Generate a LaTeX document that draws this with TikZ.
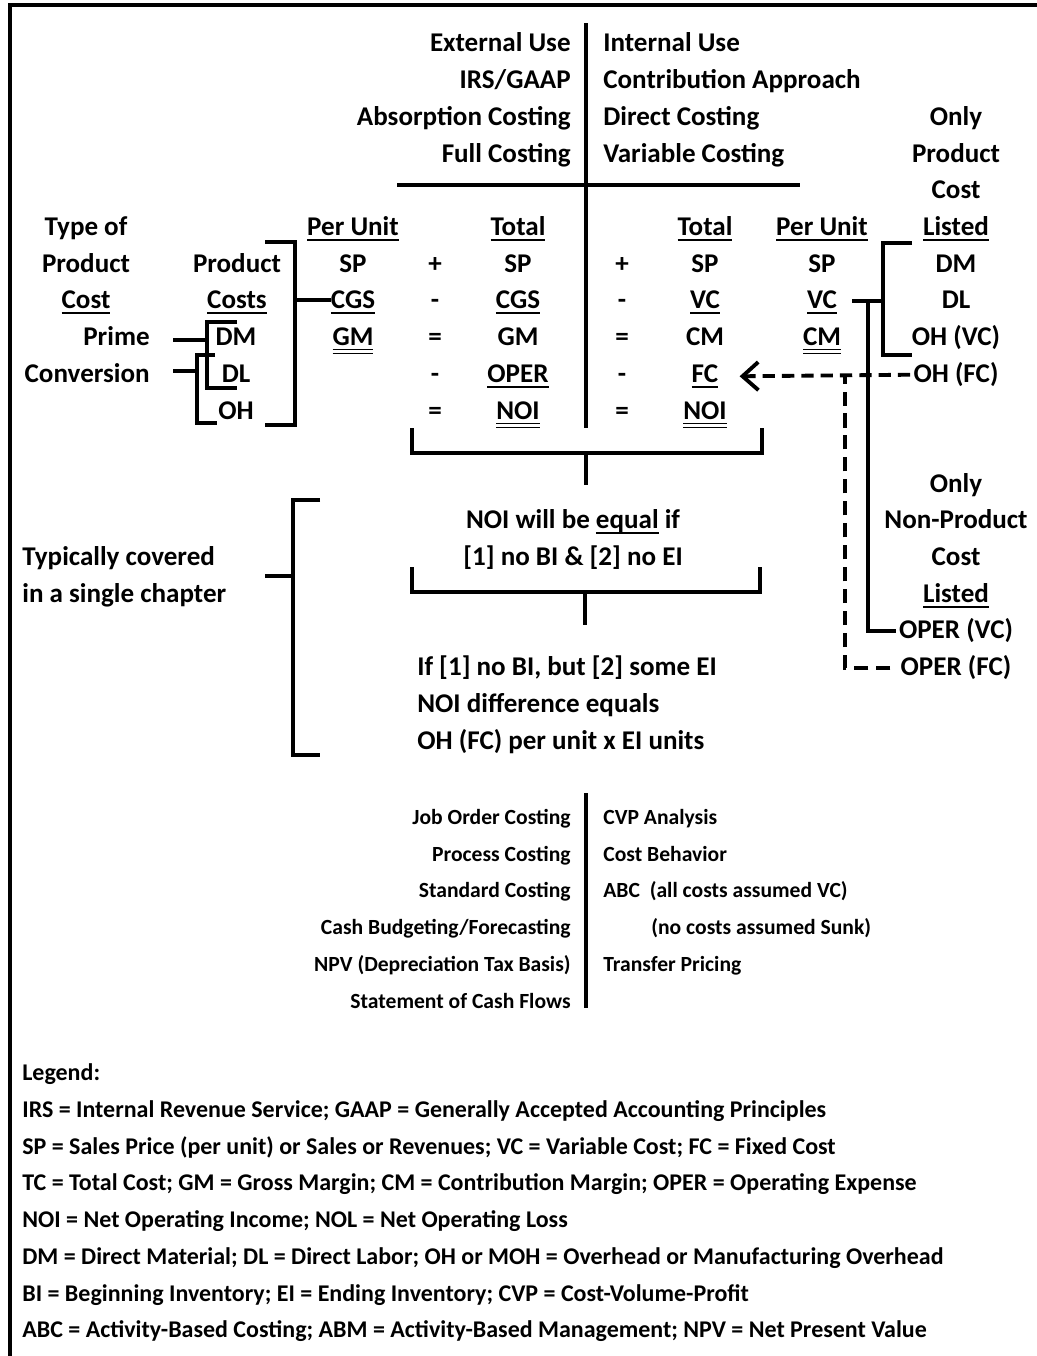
\documentclass[tikz,border=0pt]{standalone}
\usepackage{fontspec}
\setmainfont{Carlito}
\newcommand{\uln}[1]{\setbox0\hbox{#1}\leavevmode\rlap{\rule[-3pt]{\wd0}{0.9pt}}\box0\relax}
\newcommand{\uuln}[1]{\setbox0\hbox{#1}\leavevmode\rlap{\rule[-2.6pt]{\wd0}{0.8pt}}\rlap{\rule[-4.8pt]{\wd0}{0.8pt}}\box0\relax}
\usetikzlibrary{arrows.meta}
\tikzset{
    lbl/.style={font=\fontsize{15.4}{18}\selectfont\bfseries, inner sep=0pt, yshift=-0.09cm},
    lst/.style={font=\fontsize{12.3}{14}\selectfont\bfseries, inner sep=0pt, yshift=-0.1cm},
    lgd/.style={font=\fontsize{13.65}{16}\selectfont\bfseries, inner sep=0pt, anchor=mid west, yshift=-0.08cm},
    % thick bracket lines
    bracketline/.style={line width=2.2pt, black},
    dashline/.style={line width=2.2pt, black, dash pattern=on 8pt off 4.5pt},
    dasharrow/.style={
        line width=2.2pt,
        black,
        dash pattern=on 7pt off 4pt,
        ->,
        >={Straight Barb[length=9pt, width=16pt]}
    }
}

\begin{document}
\begin{tikzpicture}[x=0.02cm, y=-0.02cm]
            \useasboundingbox (0,0) rectangle (1037,1356);
            \draw[bracketline] (10,1356) -- (10,5) -- (1037,5);

            % header
            \node[lbl, anchor=mid east] (ext) at (571,43) {External Use};
            \node[lbl, anchor=mid east] (irs) at (571,80) {IRS/GAAP};
            \node[lbl, anchor=mid east] (absorp) at (571,117) {Absorption Costing};
            \node[lbl, anchor=mid east] (full) at (571,154) {Full Costing};
            \node[lbl, anchor=mid west] (intern) at (603,43) {Internal Use};
            \node[lbl, anchor=mid west] (contrib) at (603,80) {Contribution Approach};
            \node[lbl, anchor=mid west] (direct) at (603,117) {Direct Costing};
            \node[lbl, anchor=mid west] (variable) at (603,154) {Variable Costing};
            \draw[bracketline] (586,23) -- (586,428);
            \draw[bracketline] (397,185) -- (800,185);

            % only product cost listed
            \node[lbl, anchor=mid] (onlyA) at (956,117) {Only};
            \node[lbl, anchor=mid] (prodA) at (956,154) {Product};
            \node[lbl, anchor=mid] (costA) at (956,190) {Cost};
            \node[lbl, anchor=mid] (listA) at (956,227) {\uln{Listed}};

            % type of product cost
            \node[lbl, anchor=mid] (typeof) at (86,227) {Type of};
            \node[lbl, anchor=mid] (typeprod) at (86,264) {Product};
            \node[lbl, anchor=mid] (typecost) at (86,300) {\uln{Cost}};
            \node[lbl, anchor=mid east] (prime) at (150,337) {Prime};
            \node[lbl, anchor=mid east] (conv) at (150,374) {Conversion};
            \node[lbl, anchor=mid] (pcprod) at (237,264) {Product};
            \node[lbl, anchor=mid] (pccost) at (237,300) {\uln{Costs}};
            \node[lbl, anchor=mid] (dm) at (236,337) {DM};
            \node[lbl, anchor=mid] (dl) at (236,374) {DL};
            \node[lbl, anchor=mid] (oh) at (236,411) {OH};

            % absorption columns
            \node[lbl, anchor=mid] (puA) at (353,227) {\uln{Per Unit}};
            \node[lbl, anchor=mid] (spA) at (353,264) {SP};
            \node[lbl, anchor=mid] (cgsA) at (353,300) {\uln{CGS}};
            \node[lbl, anchor=mid] (gmA) at (353,337) {\uuln{GM}};
            \node[lbl, anchor=mid] (opA1) at (435,264) {+};
            \node[lbl, anchor=mid] (opA2) at (435,300) {-};
            \node[lbl, anchor=mid] (opA3) at (435,337) {=};
            \node[lbl, anchor=mid] (opA4) at (435,374) {-};
            \node[lbl, anchor=mid] (opA5) at (435,411) {=};
            \node[lbl, anchor=mid] (totA) at (518,227) {\uln{Total}};
            \node[lbl, anchor=mid] (spB) at (518,264) {SP};
            \node[lbl, anchor=mid] (cgsB) at (518,300) {\uln{CGS}};
            \node[lbl, anchor=mid] (gmB) at (518,337) {GM};
            \node[lbl, anchor=mid] (operB) at (518,374) {\uln{OPER}};
            \node[lbl, anchor=mid] (noiB) at (518,411) {\uuln{NOI}};

            % variable columns
            \node[lbl, anchor=mid] (opB1) at (622,264) {+};
            \node[lbl, anchor=mid] (opB2) at (622,300) {-};
            \node[lbl, anchor=mid] (opB3) at (622,337) {=};
            \node[lbl, anchor=mid] (opB4) at (622,374) {-};
            \node[lbl, anchor=mid] (opB5) at (622,411) {=};
            \node[lbl, anchor=mid] (totC) at (705,227) {\uln{Total}};
            \node[lbl, anchor=mid] (spC) at (705,264) {SP};
            \node[lbl, anchor=mid] (vcC) at (705,300) {\uln{VC}};
            \node[lbl, anchor=mid] (cmC) at (705,337) {CM};
            \node[lbl, anchor=mid] (fcC) at (705,374) {\uln{FC}};
            \node[lbl, anchor=mid] (noiC) at (705,411) {\uuln{NOI}};
            \node[lbl, anchor=mid] (puD) at (822,227) {\uln{Per Unit}};
            \node[lbl, anchor=mid] (spD) at (822,264) {SP};
            \node[lbl, anchor=mid] (vcD) at (822,300) {\uln{VC}};
            \node[lbl, anchor=mid] (cmD) at (822,337) {\uuln{CM}};

            % right list
            \node[lbl, anchor=mid] (dmR) at (956,264) {DM};
            \node[lbl, anchor=mid] (dlR) at (956,300) {DL};
            \node[lbl, anchor=mid] (ohvc) at (956,337) {OH (VC)};
            \node[lbl, anchor=mid] (ohfc) at (956,374) {OH (FC)};

            % brackets left
            \draw[bracketline] (265,242) -- (295,242) -- (295,425) -- (265,425);
            \draw[bracketline] (295,300) -- (cgsA.west |- 295,300);
            \draw[bracketline] (237,322) -- (207,322) -- (207,388) -- (237,388);
            \draw[bracketline] (173,340) -- (207,340);
            \draw[bracketline] (215,355) -- (197,355) -- (197,423) -- (217,423);
            \draw[bracketline] (173,371) -- (197,371);

            % brackets right
            \draw[bracketline] (912,243) -- (883,243) -- (883,355) -- (912,355);
            \draw[bracketline] (852,301) -- (883,301);
            \draw[dasharrow, shorten <=0.06cm, shorten >=0.42cm] (ohfc.west) -- (fcC.east);

            % NOI brackets
            \draw[bracketline] (412,428) -- (412,453) -- (762,453) -- (762,428);
            \draw[bracketline] (586,453) -- (586,485);
            \node[lbl, anchor=mid] (noieq) at (573,520) {NOI will be \uln{equal} if};
            \node[lbl, anchor=mid] (nobi) at (573,557) {[1] no BI \& [2] no EI};
            \draw[bracketline] (412,567) -- (412,592) -- (760,592) -- (760,567);
            \draw[bracketline] (585,592) -- (585,625);
            \node[lbl, anchor=mid west] (ifbi) at (417,667) {If [1] no BI, but [2] some EI};
            \node[lbl, anchor=mid west] (noidiff) at (417,704) {NOI difference equals};
            \node[lbl, anchor=mid west] (ohfcunit) at (417,741) {OH (FC) per unit x EI units};

            % chapter bracket
            \node[lbl, anchor=mid west] (typic) at (22,557) {Typically covered};
            \node[lbl, anchor=mid west] (single) at (22,594) {in a single chapter};
            \draw[bracketline] (320,500) -- (293,500) -- (293,755) -- (320,755);
            \draw[bracketline] (265,576) -- (293,576);

            % only non-product cost listed
            \node[lbl, anchor=mid] (onlyB) at (956,484) {Only};
            \node[lbl, anchor=mid] (nonprod) at (956,520) {Non-Product};
            \node[lbl, anchor=mid] (costB) at (956,557) {Cost};
            \node[lbl, anchor=mid] (listB) at (956,594) {\uln{Listed}};
            \node[lbl, anchor=mid] (opervc) at (956,630) {OPER (VC)};
            \node[lbl, anchor=mid] (operfc) at (956,667) {OPER (FC)};
            \draw[bracketline, shorten >=0.06cm] (868,301) |- (opervc.west);
            \draw[dashline, shorten <=0.2cm] (operfc.west) -| (845,377);

            % topics
            \draw[bracketline] (586,793) -- (586,1008);
            \node[lst, anchor=mid east] (job) at (571,815) {Job Order Costing};
            \node[lst, anchor=mid east] (process) at (571,852) {Process Costing};
            \node[lst, anchor=mid east] (standard) at (571,888) {Standard Costing};
            \node[lst, anchor=mid east] (cash) at (571,925) {Cash Budgeting/Forecasting};
            \node[lst, anchor=mid east] (npv) at (571,962) {NPV (Depreciation Tax Basis)};
            \node[lst, anchor=mid east] (stmt) at (571,999) {Statement of Cash Flows};
            \node[lst, anchor=mid west] (cvp) at (603,815) {CVP Analysis};
            \node[lst, anchor=mid west] (behav) at (603,852) {Cost Behavior};
            \node[lst, anchor=mid west] (abc) at (603,888) {ABC\ \ (all costs assumed VC)};
            \node[lst, anchor=mid west] (sunk) at (651,925) {(no costs assumed Sunk)};
            \node[lst, anchor=mid west] (transfer) at (603,962) {Transfer Pricing};

            % legend
            \node[lgd] (leg0) at (22,1072) {Legend:};
            \node[lgd] (leg1) at (22,1109) {IRS = Internal Revenue Service; GAAP = Generally Accepted Accounting Principles};
            \node[lgd] (leg2) at (22,1146) {SP = Sales Price (per unit) or Sales or Revenues; VC = Variable Cost; FC = Fixed Cost};
            \node[lgd] (leg3) at (22,1182) {TC = Total Cost; GM = Gross Margin; CM = Contribution Margin; OPER = Operating Expense};
            \node[lgd] (leg4) at (22,1219) {NOI = Net Operating Income; NOL = Net Operating Loss};
            \node[lgd] (leg5) at (22,1256) {DM = Direct Material; DL = Direct Labor; OH or MOH = Overhead or Manufacturing Overhead};
            \node[lgd] (leg6) at (22,1293) {BI = Beginning Inventory; EI = Ending Inventory; CVP = Cost-Volume-Profit};
            \node[lgd] (leg7) at (22,1329) {ABC = Activity-Based Costing; ABM = Activity-Based Management; NPV = Net Present Value};
        \end{tikzpicture}
\end{document}
